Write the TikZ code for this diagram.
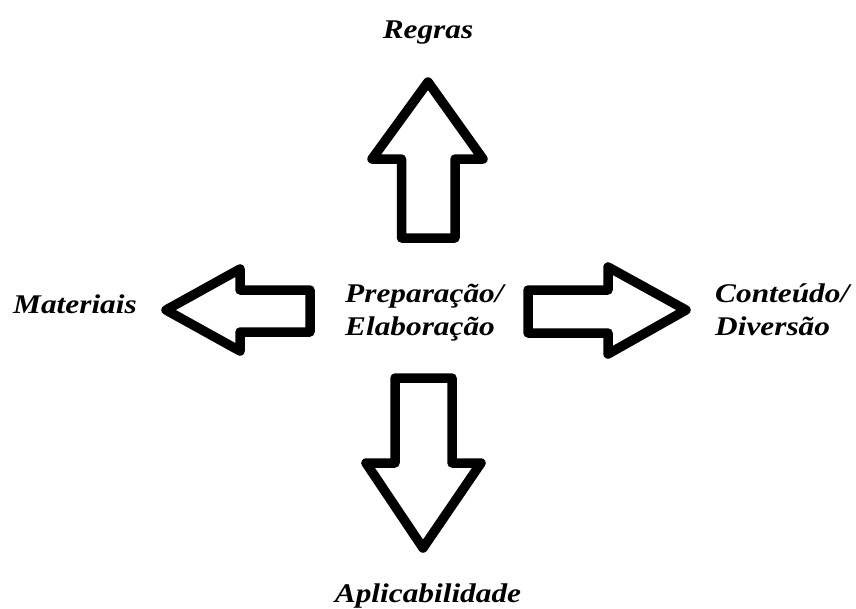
\documentclass[tikz,border=0pt]{standalone}
\usepackage{fontspec}
\setmainfont{Liberation Serif}
\begin{document}
\begin{tikzpicture}[x=1pt,y=-1pt,
  arrowshape/.style={draw=black,line width=9.5pt,line join=round,fill=white},
  lbl/.style={font=\fontsize{27}{33}\selectfont\bfseries\itshape,inner sep=0pt,xscale=1.16,align=left}]
\useasboundingbox[fill=white] (0,0) rectangle (856,608);
% up arrow
\draw[arrowshape] (401.5,238) -- (401.5,159) -- (372,159) -- (428,82) -- (483,159) -- (455,159) -- (455,238) -- cycle;
% left arrow
\draw[arrowshape] (310,290) -- (240,290) -- (240,269) -- (166,310) -- (240,351) -- (240,332) -- (310,332) -- cycle;
% right arrow
\draw[arrowshape] (528,290) -- (608,290) -- (608,267) -- (686,310) -- (608,354) -- (608,333) -- (528,333) -- cycle;
% down arrow
\draw[arrowshape] (395,378) -- (452,378) -- (452,463) -- (481,463) -- (423,548) -- (366,463) -- (395,463) -- cycle;
% labels
\node[lbl,anchor=base] (regras) at (428,38) {Regras};
\node[lbl,anchor=base] (materiais) at (75,313) {Materiais};
\node[lbl,anchor=base] (aplic) at (428,602) {Aplicabilidade};
\node[lbl,anchor=base west] (prep) at (345,302) {Preparação/};
\node[lbl,anchor=base west] (elab) at (345,335) {Elaboração};
\node[lbl,anchor=base west] (cont) at (715,302) {Conteúdo/};
\node[lbl,anchor=base west] (div) at (715,335) {Diversão};
\end{tikzpicture}
\end{document}
